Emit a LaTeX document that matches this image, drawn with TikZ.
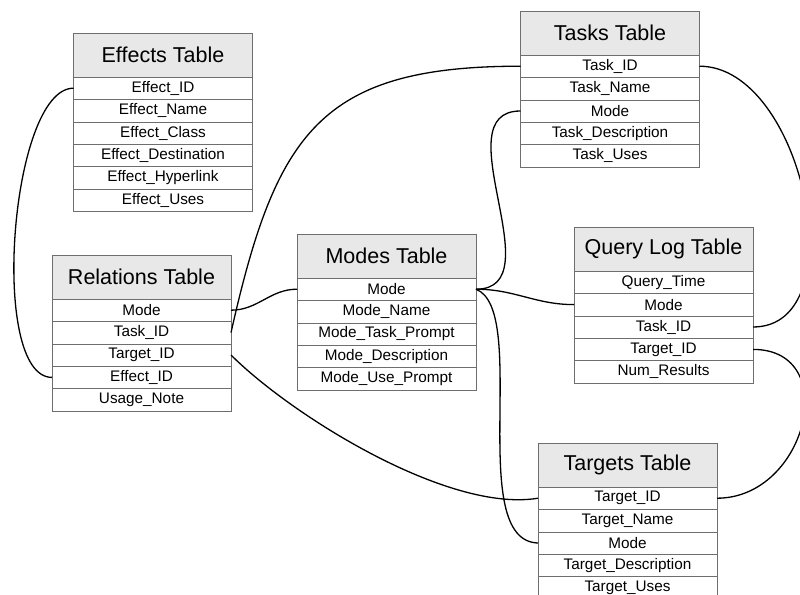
\documentclass[tikz,border=0pt]{standalone}
\usepackage{fontspec}
\setmainfont{Liberation Sans}
\usetikzlibrary{positioning}
\definecolor{headfill}{HTML}{E8E8E8}
\definecolor{boxline}{HTML}{6E6E6E}
\tikzstyle{tablehead} = [
    rectangle,
    minimum width=179pt,
    minimum height=44pt,
    inner sep=0pt,
    outer sep=0pt,
    fill=headfill,
    draw=boxline,
    font=\fontsize{21.5}{24}\selectfont
]
\tikzstyle{tablerow} = [
    rectangle,
    minimum width=179pt,
    minimum height=22.4pt,
    inner sep=0pt,
    outer sep=0pt,
    fill=white,
    draw=boxline,
    font=\fontsize{15.3}{17}\selectfont
]
\tikzstyle{link} = [line width=1.3pt]

\begin{document}
\begin{tikzpicture}[x=1pt,y=1pt]
\useasboundingbox (0,0) rectangle (800,-594);

% Effects Table
\node (effects) [tablehead] at (163,-55) {Effects Table};
\node (effectid) [tablerow, below=0pt of effects] {Effect\_ID};
\node (effectname) [tablerow, below=0pt of effectid] {Effect\_Name};
\node (effectclass) [tablerow, below=0pt of effectname] {Effect\_Class};
\node (effectdest) [tablerow, below=0pt of effectclass] {Effect\_Destination};
\node (effectlink) [tablerow, below=0pt of effectdest] {Effect\_Hyperlink};
\node (effectuses) [tablerow, below=0pt of effectlink] {Effect\_Uses};

% Relations Table
\node (relations) [tablehead] at (141.5,-277) {Relations Table};
\node (relmode) [tablerow, below=0pt of relations] {Mode};
\node (reltask) [tablerow, below=0pt of relmode] {Task\_ID};
\node (reltarget) [tablerow, below=0pt of reltask] {Target\_ID};
\node (releffect) [tablerow, below=0pt of reltarget] {Effect\_ID};
\node (relnote) [tablerow, below=0pt of releffect] {Usage\_Note};

% Modes Table
\node (modes) [tablehead] at (386.5,-256) {Modes Table};
\node (modemode) [tablerow, below=0pt of modes] {Mode};
\node (modename) [tablerow, below=0pt of modemode] {Mode\_Name};
\node (modeprompt) [tablerow, below=0pt of modename] {Mode\_Task\_Prompt};
\node (modedesc) [tablerow, below=0pt of modeprompt] {Mode\_Description};
\node (modeuse) [tablerow, below=0pt of modedesc] {Mode\_Use\_Prompt};

% Tasks Table
\node (tasks) [tablehead] at (610,-33) {Tasks Table};
\node (taskid) [tablerow, below=0pt of tasks] {Task\_ID};
\node (taskname) [tablerow, below=0pt of taskid] {Task\_Name};
\node (taskmode) [tablerow, below=0pt of taskname] {Mode};
\node (taskdesc) [tablerow, below=0pt of taskmode] {Task\_Description};
\node (taskuses) [tablerow, below=0pt of taskdesc] {Task\_Uses};

% Query Log Table
\node (querylog) [tablehead] at (663.5,-249) {Query Log Table};
\node (querytime) [tablerow, below=0pt of querylog] {Query\_Time};
\node (querymode) [tablerow, below=0pt of querytime] {Mode};
\node (querytask) [tablerow, below=0pt of querymode] {Task\_ID};
\node (querytarget) [tablerow, below=0pt of querytask] {Target\_ID};
\node (queryresults) [tablerow, below=0pt of querytarget] {Num\_Results};

% Targets Table
\node (targets) [tablehead] at (627.5,-465) {Targets Table};
\node (targetid) [tablerow, below=0pt of targets] {Target\_ID};
\node (targetname) [tablerow, below=0pt of targetid] {Target\_Name};
\node (targetmode) [tablerow, below=0pt of targetname] {Mode};
\node (targetdesc) [tablerow, below=0pt of targetmode] {Target\_Description};
\node (targetuses) [tablerow, below=0pt of targetdesc] {Target\_Uses};

% links
\draw [link] (effectid.west) to[out=180,in=180,looseness=0.56] (releffect.west);
\draw [link] (relmode.east) to[out=0,in=180] (modemode.west);
\draw [link] (reltask.east) .. controls +(45,200) and +(-200,0) .. (taskid.west);
\draw [link] (reltarget.east) .. controls +(60,-60) and +(-90,-15) .. (targetid.west);

\draw [link] (taskmode.west) to[out=180,in=0,looseness=1.1] (modemode.east);
\draw [link] (querymode.west) to[out=180,in=0] (modemode.east);
\draw [link] (modemode.east) .. controls +(54,-21) and +(-73,2) .. (targetmode.west);

\draw [link] (taskid.east) to[out=0,in=0] (querytask.east);
\draw [link] (querytarget.east) to[out=0,in=0,looseness=1.5] (targetid.east);

\end{tikzpicture}
\end{document}
